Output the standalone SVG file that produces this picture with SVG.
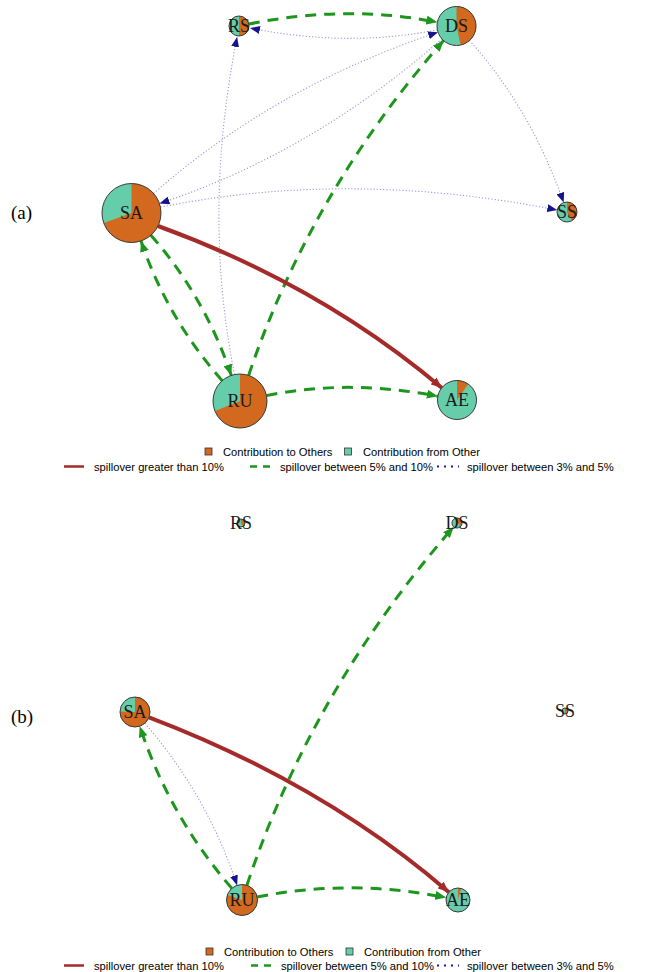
<svg xmlns="http://www.w3.org/2000/svg" width="656" height="972" viewBox="0 0 656 972">
<style>
.to{fill:#D2691E}
.from{fill:#66CDAA}
.rim{fill:none;stroke:#3a3a3a;stroke-width:1}
.lbl{font-family:"Liberation Serif","Times New Roman",serif;font-size:18px;fill:#1a1a1a;text-anchor:middle}
.pl{font-family:"Liberation Serif","Times New Roman",serif;font-size:19px;fill:#000}
.lg{font-family:"Liberation Sans",Arial,sans-serif;font-size:11.2px;fill:#000}
.red{fill:none;stroke:#A52A2A;stroke-width:4}
.grn{fill:none;stroke:#1D961D;stroke-width:3;stroke-dasharray:11 8}
.blu{fill:none;stroke:#9A9AD2;stroke-width:1.1;stroke-dasharray:1.2 2}
</style>
<defs>
<marker id="aR" markerUnits="userSpaceOnUse" markerWidth="12" markerHeight="9" refX="11" refY="4.5" orient="auto"><path d="M0,0 L11,4.5 L0,9 Z" fill="#A52A2A"/></marker>
<marker id="aG" markerUnits="userSpaceOnUse" markerWidth="12" markerHeight="9" refX="11" refY="4.5" orient="auto"><path d="M0,0 L11,4.5 L0,9 Z" fill="#1D961D"/></marker>
<marker id="aB" markerUnits="userSpaceOnUse" markerWidth="11" markerHeight="8" refX="10" refY="4" orient="auto"><path d="M0,0 L10,4 L0,8 Z" fill="#14148C"/></marker>
</defs>
<rect width="656" height="972" fill="#fff"/>

<text class="pl" x="11" y="219">(a)</text>
<text class="pl" x="11" y="723">(b)</text>

<g id="edges-a">
<path class="blu" d="M437.4,29.8 Q347.75,47.75 250,28" marker-end="url(#aB)"/>
<path class="blu" d="M234.6,374.5 Q202,213.5 237.1,37" marker-end="url(#aB)"/>
<path class="blu" d="M153.6,193.5 Q275,86.6 438,32.2" marker-end="url(#aB)"/>
<path class="blu" d="M441.9,38.9 Q313,152.4 159.5,203.6" marker-end="url(#aB)"/>
<path class="blu" d="M160.4,207.2 Q349.25,169 557.2,210.1" marker-end="url(#aB)"/>
<path class="blu" d="M469.5,40.5 Q530.3,108 563.7,202.6" marker-end="url(#aB)"/>
<path class="grn" d="M248.8,24 Q347.75,4.25 437.4,22.2" marker-end="url(#aG)"/>
<path class="grn" d="M150.9,235.2 Q204.5,296.2 231.3,375.4" marker-end="url(#aG)"/>
<path class="grn" d="M222.2,380.7 Q167,317.9 141,241" marker-end="url(#aG)"/>
<path class="grn" d="M248.6,375.4 Q310.75,191.85 443.6,40.6" marker-end="url(#aG)"/>
<path class="grn" d="M266.5,395.6 Q348.5,378.8 437.9,396.3" marker-end="url(#aG)"/>
<path class="red" d="M158,226 Q320,285 442,388" marker-end="url(#aR)"/>
</g>

<g id="node-a-RS">
<circle class="from" cx="239" cy="26" r="10"/>
<path class="to" d="M239,26 L239,16 A10,10 0 0 1 239,36 Z"/>
<circle class="rim" cx="239" cy="26" r="10"/>
<text class="lbl" x="239" y="32">RS</text>
</g>
<g id="node-a-DS">
<circle class="from" cx="456.5" cy="26" r="19.5"/>
<path class="to" d="M456.5,26 L456.5,6.5 A19.5,19.5 0 0 1 460.6,45.1 Z"/>
<circle class="rim" cx="456.5" cy="26" r="19.5"/>
<text class="lbl" x="456.5" y="32">DS</text>
</g>
<g id="node-a-SS">
<circle class="from" cx="567" cy="212" r="10"/>
<path class="to" d="M567,212 L567,202 A10,10 0 0 1 572,220.66 Z"/>
<circle class="rim" cx="567" cy="212" r="10"/>
<text class="lbl" x="567" y="218">SS</text>
</g>
<g id="node-a-SA">
<circle class="from" cx="131.5" cy="213" r="29.5"/>
<path class="to" d="M131.5,213 L131.5,183.5 A29.5,29.5 0 1 1 103.8,223.1 Z"/>
<circle class="rim" cx="131.5" cy="213" r="29.5"/>
<text class="lbl" x="131.5" y="219">SA</text>
</g>
<g id="node-a-RU">
<circle class="from" cx="240" cy="401" r="27"/>
<path class="to" d="M240,401 L240,374 A27,27 0 1 1 214.97,411.1 Z"/>
<circle class="rim" cx="240" cy="401" r="27"/>
<text class="lbl" x="240" y="407">RU</text>
</g>
<g id="node-a-AE">
<circle class="from" cx="457" cy="400" r="19.5"/>
<path class="to" d="M457,400 L457,380.5 A19.5,19.5 0 0 1 468.2,384 Z"/>
<circle class="rim" cx="457" cy="400" r="19.5"/>
<text class="lbl" x="457" y="406">AE</text>
</g>

<g id="legend-a">
<rect x="205" y="448" width="7" height="7" class="to" stroke="#333" stroke-width="0.8"/>
<text class="lg" x="223" y="455.5">Contribution to Others</text>
<rect x="344.5" y="448" width="7" height="7" class="from" stroke="#333" stroke-width="0.8"/>
<text class="lg" x="363" y="455.5">Contribution from Other</text>
<line x1="64" y1="466.5" x2="84" y2="466.5" stroke="#A52A2A" stroke-width="2.5"/>
<text class="lg" x="94" y="470.5">spillover greater than 10%</text>
<line x1="250" y1="466.5" x2="270" y2="466.5" stroke="#1D961D" stroke-width="2.5" stroke-dasharray="7 6"/>
<text class="lg" x="280" y="470.5">spillover between 5% and 10%</text>
<line x1="437" y1="466.5" x2="459" y2="466.5" stroke="#1A1AA0" stroke-width="2" stroke-dasharray="2 5"/>
<text class="lg" x="467" y="470.5">spillover between 3% and 5%</text>
</g>

<g id="edges-b">
<path class="blu" d="M144.8,723.3 Q207.3,795.3 237.1,885.3" marker-end="url(#aB)"/>
<path class="grn" d="M231.8,888.3 Q169.7,816.7 139.7,726.2" marker-end="url(#aG)"/>
<path class="grn" d="M246.9,885.3 Q311.8,690 453.7,526.8" marker-end="url(#aG)"/>
<path class="grn" d="M257.2,897 Q350,878.4 446.2,897.6" marker-end="url(#aG)"/>
<path class="red" d="M149,717.3 Q323,783.5 448.9,892.2" marker-end="url(#aR)"/>
</g>

<g id="node-b-RS">
<circle class="from" cx="241" cy="523" r="4"/>
<path class="to" d="M241,523 L241,519 A4,4 0 0 1 243,526.46 Z"/>
<circle class="rim" cx="241" cy="523" r="4"/>
<text class="lbl" x="241" y="529">RS</text>
</g>
<g id="node-b-DS">
<circle class="from" cx="457" cy="523" r="5"/>
<path class="to" d="M457,523 L457,518 A5,5 0 0 1 461.33,525.5 Z"/>
<circle class="rim" cx="457" cy="523" r="5"/>
<text class="lbl" x="457" y="529">DS</text>
</g>
<g id="node-b-SS">
<circle class="from" cx="565" cy="711" r="3"/>
<path class="to" d="M565,711 L565,708 A3,3 0 0 1 565,714 Z"/>
<circle class="rim" cx="565" cy="711" r="3"/>
<text class="lbl" x="565" y="717">SS</text>
</g>
<g id="node-b-SA">
<circle class="from" cx="135" cy="712" r="15"/>
<path class="to" d="M135,712 L135,697 A15,15 0 1 1 120,711.5 Z"/>
<circle class="rim" cx="135" cy="712" r="15"/>
<text class="lbl" x="135" y="718">SA</text>
</g>
<g id="node-b-RU">
<circle class="from" cx="242" cy="900" r="15.5"/>
<path class="to" d="M242,900 L242,884.5 A15.5,15.5 0 1 1 227.4,894.7 Z"/>
<circle class="rim" cx="242" cy="900" r="15.5"/>
<text class="lbl" x="242" y="906">RU</text>
</g>
<g id="node-b-AE">
<circle class="from" cx="458" cy="900" r="12"/>
<path class="to" d="M458,900 L458,888 A12,12 0 0 1 461.1,888.4 Z"/>
<circle class="rim" cx="458" cy="900" r="12"/>
<text class="lbl" x="458" y="906">AE</text>
</g>

<g id="legend-b">
<rect x="206" y="948" width="7" height="7" class="to" stroke="#333" stroke-width="0.8"/>
<text class="lg" x="224" y="955.5">Contribution to Others</text>
<rect x="346" y="948" width="7" height="7" class="from" stroke="#333" stroke-width="0.8"/>
<text class="lg" x="364" y="955.5">Contribution from Other</text>
<line x1="64" y1="965.5" x2="84" y2="965.5" stroke="#A52A2A" stroke-width="2.5"/>
<text class="lg" x="94" y="969.5">spillover greater than 10%</text>
<line x1="251" y1="965.5" x2="271" y2="965.5" stroke="#1D961D" stroke-width="2.5" stroke-dasharray="7 6"/>
<text class="lg" x="281" y="969.5">spillover between 5% and 10%</text>
<line x1="437" y1="965.5" x2="459" y2="965.5" stroke="#1A1AA0" stroke-width="2" stroke-dasharray="2 5"/>
<text class="lg" x="467" y="969.5">spillover between 3% and 5%</text>
</g>
</svg>
